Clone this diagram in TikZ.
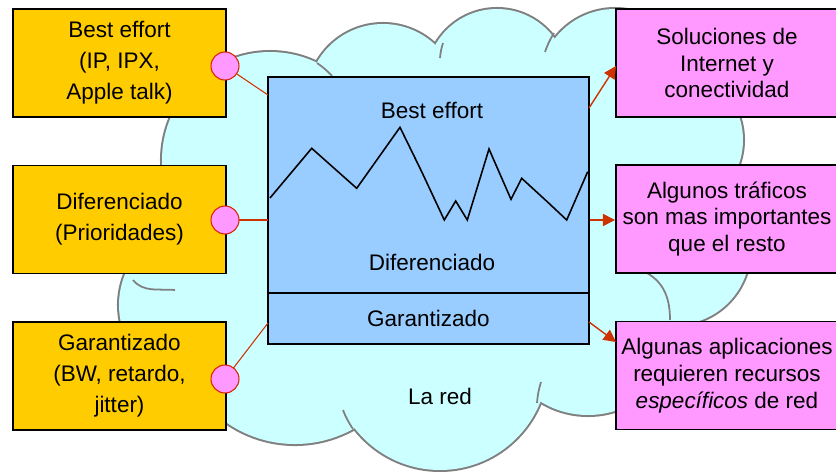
\documentclass[tikz,border=0pt]{standalone}
\usepackage{fontspec}
\setmainfont{Liberation Sans}
\usepackage{xcolor}
\usetikzlibrary{arrows.meta}

\definecolor{nube}{HTML}{CCFFFF}
\definecolor{nubeborde}{HTML}{808080}
\definecolor{naranja}{HTML}{FFCC00}
\definecolor{rosa}{HTML}{FF99FF}
\definecolor{azul}{HTML}{99CCFF}
\definecolor{rojo}{HTML}{CC3300}

\begin{document}
\begin{tikzpicture}[x=0.02cm,y=-0.02cm]
	%\draw[help lines] (0,0) grid (836,471);
	
		\tikzset{
		caja/.style 	= {draw=black, line width=1.1pt, minimum width=4.26cm, minimum height=2.16cm,
							align=center, inner sep=0pt, font=\fontsize{12.8}{17.6}\selectfont},
		cajaL/.style 	= {caja, fill=naranja},
		cajaR/.style 	= {caja, fill=rosa, minimum width=4.44cm, font=\fontsize{12.8}{15.3}\selectfont},
		medio/.style 	= {draw=black, line width=1.1pt, fill=azul, minimum width=6.42cm, inner sep=0pt,
							font=\fontsize{12.8}{17.6}\selectfont},
		pin/.style 		= {circle, draw=rojo!70!red, line width=0.6pt, fill=rosa, minimum size=0.56cm, inner sep=0pt},
		enlace/.style 	= {draw=rojo, line width=0.6pt},
		flecha/.style 	= {draw=rojo, line width=0.8pt, -{Triangle[length=7pt,width=7pt]}},
		texto/.style 	= {font=\fontsize{12.8}{17.6}\selectfont},
		cola/.style 	= {draw=nubeborde, line width=1pt}}
	
		\useasboundingbox (0,0) rectangle (836,471);
	
		% la nube
		\foreach \cx/\cy/\ra/\rb in {270/160/108/108, 383/100/76/76, 497/80/71/71, 615/85/76/76,
			670/140/73/73, 675/250/75/75, 588/330/88/85, 440/362/108/108, 295/324/120/120,
			200/305/81/81, 215/225/100/68}
			\draw[nubeborde, line width=2.3pt] (\cx,\cy) ellipse [x radius=\ra, y radius=\rb];
		\foreach \cx/\cy/\ra/\rb in {270/160/108/108, 383/100/76/76, 497/80/71/71, 615/85/76/76,
			670/140/73/73, 675/250/75/75, 588/330/88/85, 440/362/108/108, 295/324/120/120,
			200/305/81/81, 215/225/100/68, 430/215/200/150}
			\fill[nube] (\cx,\cy) ellipse [x radius=\ra, y radius=\rb];
		
		\draw[cola] (317,63) to[bend left=6] (332,76);
		\draw[cola] (443,43) to[bend right=6] (440,58);
		\draw[cola] (554,33) to[bend right=6] (545,52);
		\draw[cola] (537,403) to[bend left=6] (541,382);
		\draw[cola] (353,429) to[bend left=6] (343,410);
		\draw[cola] (133,280) to[out=-50,in=175] (175,290);
		\draw[cola] (647,273) to[out=-30,in=90] (670,320);
	
		% la red por dentro
		\node[medio, minimum height=4.32cm] (up) at (428.5,185) {};
		\node[medio, minimum height=1.02cm] (gar) at (428.5,318.5) {Garantizado};
		
		\draw[line width=0.9pt] (270,198) -- (311.7,148.3) -- (356.7,188.3) -- (400,127.3)
			-- (421.7,171.7) -- (444.3,220) -- (455.7,201) -- (467.3,220) -- (489,149)
			-- (511,199.3) -- (521.7,178.3) -- (548.3,202.7) -- (566.7,220) -- (587.7,171.7);
		
		\node[texto] (be) at (432,110) {Best effort};
		\node[texto] (dif) at (432,262) {Diferenciado};
		\node[texto] (red) at (440,396) {La red};
	
		% servicios
		\node[cajaL] (l1) at (119.5,63) {Best effort\\(IP, IPX,\\Apple talk)};
		\node[cajaL] (l2) at (119.5,219.5) {Diferenciado\\(Prioridades)};
		\node[cajaL] (l3) at (119.5,376) {Garantizado\\(BW, retardo,\\jitter)};
		
		\node[cajaR] (r1) at (727,63) {Soluciones de\\Internet y\\conectividad};
		\node[cajaR] (r2) at (727,219) {Algunos tráficos\\son mas importantes\\que el resto};
		\node[cajaR] (r3) at (727,375.5) {Algunas aplicaciones\\requieren recursos\\\textit{específicos} de red};
	
		\coordinate (e1) at (268,95);
		\coordinate (e3) at (268,323);
		\coordinate (s1) at (589,108);
		\coordinate (t1) at (616,66);
		\coordinate (s3) at (589,322);
		\coordinate (t3) at (616,342);
		
		\draw[enlace] (225,66) -- (e1);
		\draw[enlace] (225,220) -- (e1 |- 0,220);
		\draw[enlace] (225,379) -- (e3);
		
		\node[pin] (p1) at (225,66) {};
		\node[pin] (p2) at (225,220) {};
		\node[pin] (p3) at (225,379) {};
		
		\draw[flecha] (s1) -- (t1);
		\draw[flecha] (p2 -| up.east) -- (p2 -| r2.west);
		\draw[flecha] (s3) -- (t3);

\end{tikzpicture}
\end{document}
